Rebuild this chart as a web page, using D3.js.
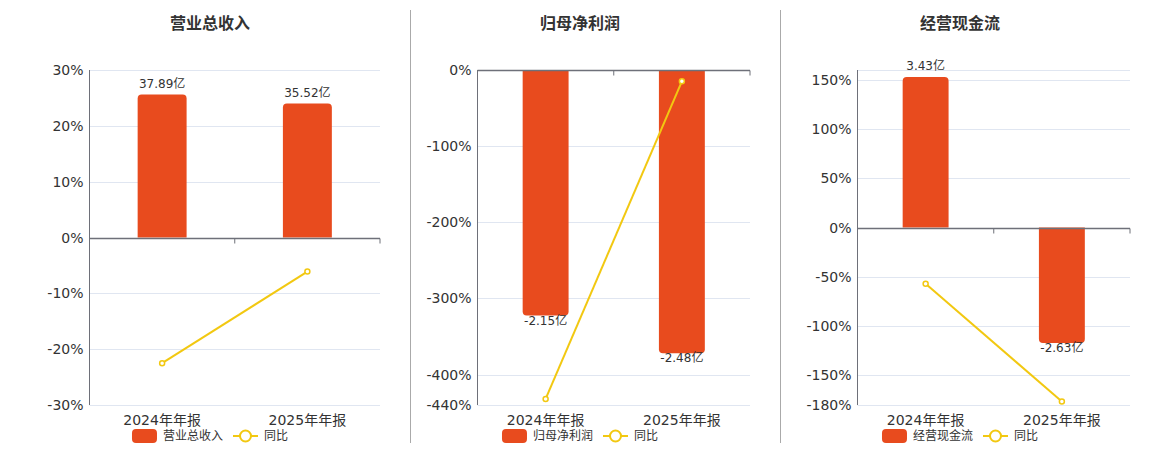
<!DOCTYPE html>
<html>
<head>
<meta charset="utf-8">
<script src="https://cdn.jsdelivr.net/npm/d3@7"></script>
<style>
  body { margin: 0; background: #fff; }
  svg { display: block; font-family: "DejaVu Sans", "Noto Sans CJK SC", sans-serif; }
</style>
</head>
<body>
<div id="chart"></div>
<script>
// categories
const periods = ['2024年年报', '2025年年报'];

// 营业总收入 (亿) and yoy %
const revenue = [37.89, 35.52];
const revenueYoy = [-22.5, -6.1];
const revenueTicks = [30, 20, 10, 0, -10, -20, -30];

// 归母净利润
const netProfit = [-2.15, -2.48];
const netProfitYoy = [-432, -14.9];
const netProfitTicks = [0, -100, -200, -300, -400, -440];

// 经营现金流
const cashFlow = [3.43, -2.63];
const cashFlowYoy = [-57.0, -176.4];
const cashFlowTicks = [160, 150, 100, 50, 0, -50, -100, -150, -180];
const cashFlowHidden = [160]; // gridline only, no label

const titles = ['营业总收入', '归母净利润', '经营现金流'];
const yoyName = '同比';

const width = 1160;
const height = 450;
const barColor = '#e84b1e';
const lineColor = '#f2c811';
const axisColor = '#6e7079';
const gridColor = '#e0e6f1';
const textColor = '#333';

// panel setup (plot area + hidden bar axis)
const panels = [
  { title: titles[0], bars: revenue, yoy: revenueYoy, ticks: revenueTicks, hide: [],
    pct: [-30, 30], barDomain: [-44.4, 44.4], left: 89.5, right: 380, center: 210 },
  { title: titles[1], bars: netProfit, yoy: netProfitYoy, ticks: netProfitTicks, hide: [],
    pct: [-440, 0], barDomain: [-2.934, 0], left: 477.5, right: 750, center: 580 },
  { title: titles[2], bars: cashFlow, yoy: cashFlowYoy, ticks: cashFlowTicks, hide: cashFlowHidden,
    pct: [-180, 160], barDomain: [-4.04, 3.59], left: 857.5, right: 1130, center: 960 },
];
const plotTop = 70, plotBottom = 405;

const svg = d3.select('#chart').append('svg')
  .attr('width', width).attr('height', height);

// separators
[410.5, 780.5].forEach((x) => {
  svg.append('line').attr('x1', x).attr('x2', x).attr('y1', 10).attr('y2', 443)
    .attr('stroke', '#aaa').attr('stroke-width', 1);
});

// rounded-end bar path
function barPath(x, w, y0, y1, r) {
  if (y1 < y0) { // positive, round top
    return `M${x},${y0}V${y1 + r}Q${x},${y1} ${x + r},${y1}H${x + w - r}Q${x + w},${y1} ${x + w},${y1 + r}V${y0}Z`;
  }
  return `M${x},${y0}V${y1 - r}Q${x},${y1} ${x + r},${y1}H${x + w - r}Q${x + w},${y1} ${x + w},${y1 - r}V${y0}Z`;
}

panels.forEach((p) => {
  const g = svg.append('g');

  const x = d3.scaleBand().domain(periods).range([p.left, p.right]);
  const y = d3.scaleLinear().domain(p.pct).range([plotBottom, plotTop]);
  const yBar = d3.scaleLinear().domain(p.barDomain).range([plotBottom, plotTop]);
  const bw = x.bandwidth() * 0.337;
  const cx = (d) => x(d) + x.bandwidth() / 2;

  // title
  g.append('text').attr('x', p.center).attr('y', 29)
    .attr('text-anchor', 'middle').attr('font-size', 16).attr('font-weight', 'bold')
    .attr('fill', textColor).text(p.title);

  // gridlines
  g.append('g').selectAll('line').data(p.ticks.filter((t) => t !== 0)).join('line')
    .attr('x1', p.left).attr('x2', p.right)
    .attr('y1', (d) => Math.round(y(d)) + 0.5).attr('y2', (d) => Math.round(y(d)) + 0.5)
    .attr('stroke', gridColor);

  // y tick labels
  g.append('g').selectAll('text').data(p.ticks.filter((t) => !p.hide.includes(t))).join('text')
    .attr('x', p.left - 6).attr('y', (d) => y(d))
    .attr('dy', '0.36em').attr('text-anchor', 'end')
    .attr('font-size', 14).attr('fill', textColor)
    .text((d) => d + '%');

  // left axis line
  g.append('line').attr('x1', p.left).attr('x2', p.left).attr('y1', plotTop).attr('y2', plotBottom)
    .attr('stroke', axisColor);

  // bars
  const zeroY = yBar(0);
  g.append('g').selectAll('path').data(periods).join('path')
    .attr('d', (d, i) => barPath(cx(d) - bw / 2, bw, zeroY, yBar(p.bars[i]), 4))
    .attr('fill', barColor);

  // bar labels
  g.append('g').selectAll('text').data(periods).join('text')
    .attr('x', (d) => cx(d))
    .attr('y', (d, i) => p.bars[i] >= 0 ? yBar(p.bars[i]) - 11 : yBar(p.bars[i]) + 5)
    .attr('dy', '0.36em').attr('text-anchor', 'middle')
    .attr('font-size', 12).attr('fill', textColor)
    .text((d, i) => p.bars[i].toFixed(2) + '亿');

  // zero axis with ticks
  const zy = Math.round(y(0)) + 0.5;
  g.append('line').attr('x1', p.left).attr('x2', p.right).attr('y1', zy).attr('y2', zy)
    .attr('stroke', axisColor).attr('stroke-width', 1.6);
  const tickXs = periods.map((d) => x(d)).concat([p.right]);
  g.append('g').selectAll('line').data(tickXs).join('line')
    .attr('x1', (d) => d).attr('x2', (d) => d).attr('y1', zy).attr('y2', zy + 5)
    .attr('stroke', axisColor);

  // x labels
  g.append('g').selectAll('text').data(periods).join('text')
    .attr('x', (d) => cx(d)).attr('y', 425)
    .attr('text-anchor', 'middle').attr('font-size', 14).attr('fill', textColor)
    .text((d) => d);

  // yoy line
  const line = d3.line().x((d, i) => cx(periods[i])).y((d) => y(d));
  g.append('path').datum(p.yoy).attr('d', line)
    .attr('fill', 'none').attr('stroke', lineColor).attr('stroke-width', 2);
  g.append('g').selectAll('circle').data(p.yoy).join('circle')
    .attr('cx', (d, i) => cx(periods[i])).attr('cy', (d) => y(d)).attr('r', 2.5)
    .attr('fill', '#fff').attr('stroke', lineColor).attr('stroke-width', 1.5);

  // legend
  const lg = g.append('g');
  const t1 = lg.append('text').attr('y', 436).attr('dy', '0.36em')
    .attr('font-size', 12).attr('fill', textColor).text(p.title);
  const t2 = lg.append('text').attr('y', 436).attr('dy', '0.36em')
    .attr('font-size', 12).attr('fill', textColor).text(yoyName);
  const w1 = t1.node().getComputedTextLength();
  const w2 = t2.node().getComputedTextLength();
  const total = 25 + 6 + w1 + 10 + 25 + 6 + w2;
  let lx = p.center - total / 2;
  lg.append('rect').attr('x', lx).attr('y', 429).attr('width', 25).attr('height', 14)
    .attr('rx', 4).attr('fill', barColor);
  t1.attr('x', lx + 31);
  lx += 31 + w1 + 10;
  lg.append('line').attr('x1', lx).attr('x2', lx + 25).attr('y1', 436).attr('y2', 436)
    .attr('stroke', lineColor).attr('stroke-width', 2);
  lg.append('circle').attr('cx', lx + 12.5).attr('cy', 436).attr('r', 5.5)
    .attr('fill', '#fff').attr('stroke', lineColor).attr('stroke-width', 2);
  t2.attr('x', lx + 31);
});
</script>
</body>
</html>
